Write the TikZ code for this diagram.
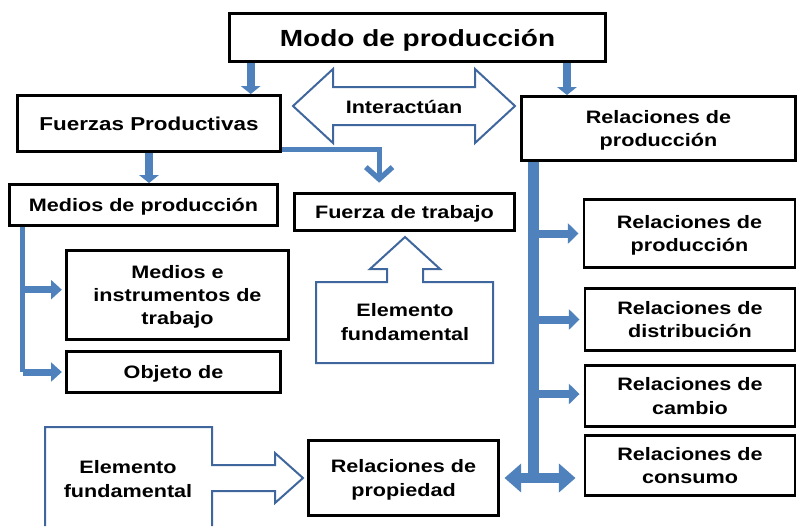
\documentclass[tikz,border=0pt]{standalone}
\usepackage{fontspec}
\setmainfont{Liberation Sans}[FakeStretch=1.2]
\usetikzlibrary{arrows.meta}
\definecolor{arrowBlue}{RGB}{79,129,189}
\definecolor{calloutBlue}{RGB}{63,103,158}
\newcommand{\boxText}{\fontsize{13.5}{17.5}\selectfont\bfseries}

\begin{document}
\begin{tikzpicture}
[x=0.75pt,y=-0.75pt,%
  boxDecorate/.style={draw,line width=2.2pt,align=center,inner sep=0pt,text depth=0pt,font=\boxText},%
  labelDecorate/.style={align=center,inner sep=0pt,text depth=0pt,font=\boxText},%
  calloutDecorate/.style={draw=calloutBlue,line width=1.5pt,line join=miter},%
  blockArrow/.style={draw=arrowBlue,line width=6pt,-{Triangle[length=6pt,width=14.5pt]}},%
  leftArrow/.style={draw=arrowBlue,line width=5.25pt,-{Triangle[length=8pt,width=14pt]}},%
  rightArrow/.style={draw=arrowBlue,line width=6pt,-{Triangle[length=8pt,width=15pt]}},%
  dblArrow/.style={draw=arrowBlue,line width=8pt,%
    {Triangle[length=12.5pt,width=21pt]}-{Triangle[length=12.5pt,width=21pt]}},%
  barDecorate/.style={draw=arrowBlue,line width=#1}]
\useasboundingbox (0,0) rectangle (798,526);
%% boxes
\node (modo) at (417.5,37.5) [boxDecorate,minimum width=282pt,minimum height=36pt,
  font=\fontsize{17.5}{21}\selectfont\bfseries] {Modo de producción};
\node (fuerzas) at (149,123.5) [boxDecorate,minimum width=197.25pt,minimum height=42pt,
  font=\fontsize{14}{17}\selectfont\bfseries] {Fuerzas Productivas};
\node (relProd) at (658.5,128.5) [boxDecorate,minimum width=205.5pt,minimum height=48pt]
  {Relaciones de\\producción};
\node (medios) at (143.5,205) [boxDecorate,minimum width=201pt,minimum height=30.75pt]
  {Medios de producción};
\node (fuerzaTrab) at (404.5,212) [boxDecorate,minimum width=165pt,minimum height=27.75pt]
  {Fuerza de trabajo};
\node (mediosInstr) at (177.5,295) [boxDecorate,minimum width=166.5pt,minimum height=66.75pt]
  {Medios e\\instrumentos de\\trabajo};
\node (objeto) at (173.5,372) [boxDecorate,minimum width=160.5pt,minimum height=30.75pt]
  {Objeto de};
\node (relProd2) at (689.5,233.5) [boxDecorate,minimum width=158.25pt,minimum height=51pt]
  {Relaciones de\\producción};
\node (relDist) at (690,319.5) [boxDecorate,minimum width=157.5pt,minimum height=46.5pt]
  {Relaciones de\\distribución};
\node (relCambio) at (690,396) [boxDecorate,minimum width=157.5pt,minimum height=45.75pt]
  {Relaciones de\\cambio};
\node (relCons) at (690,465.5) [boxDecorate,minimum width=157.5pt,minimum height=45pt]
  {Relaciones de\\consumo};
\node (relProp) at (403.5,478) [boxDecorate,minimum width=142.5pt,minimum height=56.25pt]
  {Relaciones de\\propiedad};
%% callouts
\draw[calloutDecorate] (293,106) -- (333,69) -- (333,87) -- (475,87) -- (475,69)
  -- (515,106) -- (475,143) -- (475,125) -- (333,125) -- (333,143) -- cycle;
\node (interText) at (404,107) [labelDecorate] {Interactúan};
\draw[calloutDecorate] (316,363) -- (316,282) -- (387,282) -- (387,269) -- (370,269)
  -- (405,237) -- (440,269) -- (423,269) -- (423,282) -- (493,282) -- (493,363) -- cycle;
\node (elemUp) at (405,322) [labelDecorate] {Elemento\\fundamental};
\draw[calloutDecorate] (45,526) -- (45,427) -- (212,427) -- (212,465) -- (275,465)
  -- (275,453) -- (303,478) -- (275,503) -- (275,491) -- (212,491) -- (212,526);
\node (elemRight) at (128,479) [labelDecorate] {Elemento\\fundamental};
%% connectors
\path ([xshift=17pt]modo.south west) edge[blockArrow]
  ([xshift=17pt]modo.south west |- fuerzas.north);
\path ([xshift=-30pt]modo.south east) edge[blockArrow]
  ([xshift=-30pt]modo.south east |- relProd.north);
\path (fuerzas.south) edge[blockArrow] (fuerzas.south |- medios.north);
\draw[draw=arrowBlue,line width=4pt,shorten >=7pt,-{Straight Barb[length=9pt,width=20pt]}]
  ([yshift=2.6pt]fuerzas.south east) -| ([xshift=-19pt]fuerzaTrab.north);
%% left bar
\coordinate (mBar) at ([xshift=11pt]medios.south west);
\draw[barDecorate=3.75pt] (mBar) -- (mBar |- objeto.west);
\path ([yshift=4pt]mBar |- mediosInstr.west) edge[leftArrow,shorten >=2.4pt]
  ([yshift=4pt]mediosInstr.west);
\path (mBar |- objeto.west) edge[leftArrow,shorten >=2.4pt] (objeto.west);
%% right bar
\coordinate (rBar) at ([xshift=10pt]relProd.south west);
\draw[barDecorate=8.5pt] (rBar) -- (rBar |- relProp.east);
\path (rBar |- relProd2.west) edge[rightArrow,shorten >=3pt] (relProd2.west);
\path (rBar |- relDist.west) edge[rightArrow,shorten >=3pt] (relDist.west);
\path ([yshift=1.5pt]rBar |- relCambio.west) edge[rightArrow,shorten >=3pt]
  ([yshift=1.5pt]relCambio.west);
\path (relProp.east) edge[dblArrow,shorten <=3.4pt,shorten >=6pt]
  (relCons.west |- relProp.east);
\end{tikzpicture}
\end{document}
